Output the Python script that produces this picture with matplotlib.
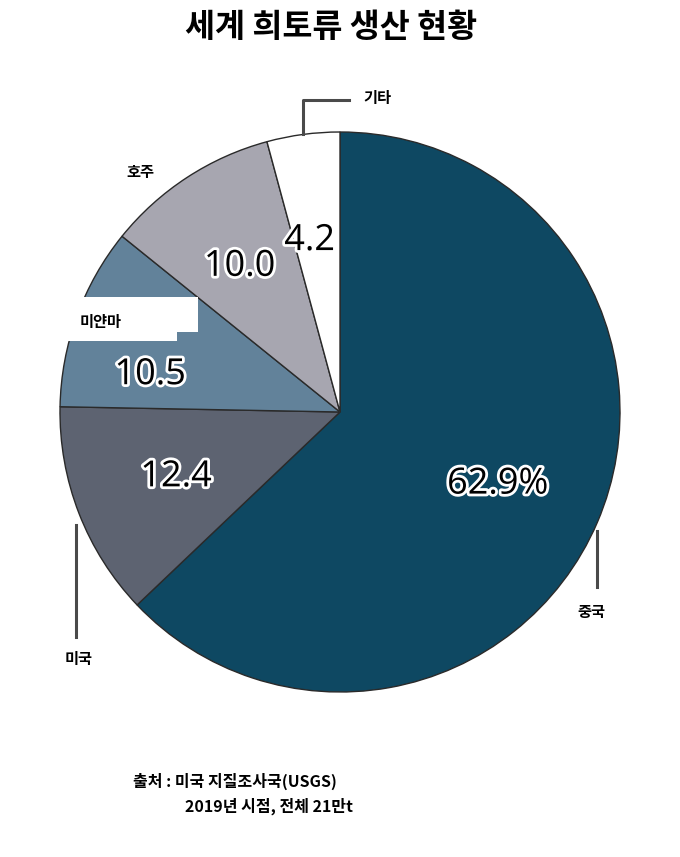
import matplotlib
matplotlib.use('Agg')
import matplotlib.pyplot as plt
import matplotlib.patheffects as pe
from matplotlib.patches import Rectangle
import numpy as np

plt.rcParams['font.family'] = ['Noto Sans CJK KR', 'DejaVu Sans']

# data
countries = ['중국', '미국', '미얀마', '호주', '기타']
shares = [62.9, 12.4, 10.5, 10.0, 4.2]
value_labels = ['62.9%', '12.4', '10.5', '10.0', '4.2']
title = '세계 희토류 생산 현황'
source_lines = ['출처 : 미국 지질조사국(USGS)', '2019년 시점, 전체 21만t']

colors = ['#0e4862', '#5d6371', '#62829a', '#a7a6b0', '#ffffff']
# label placement style (radius fraction, angle shift in degrees)
label_r = [0.62, 0.63, 0.69, 0.63, 0.62]
label_shift = [-1.5, 0.5, 9.0, 1.5, 2.5]

W, H = 680, 857
fig = plt.figure(figsize=(W / 100, H / 100), dpi=100)
fig.patch.set_facecolor('white')

cx, cy, R = 340, 412, 280
ax = fig.add_axes([(cx - R) / W, 1 - (cy + R) / H, 2 * R / W, 2 * R / H])

wedges, _ = ax.pie(shares, colors=colors, startangle=90, counterclock=False,
                   radius=1, wedgeprops=dict(edgecolor='#2a2a2a', linewidth=1.0))
for w in wedges:
    w.set_clip_on(False)
ax.set_xlim(-1, 1)
ax.set_ylim(-1, 1)
ax.set_aspect('equal')
ax.axis('off')

def px(x, y):
    return (x - cx) / R, (cy - y) / R

# numbers inside slices
for w, txt, r, sh in zip(wedges, value_labels, label_r, label_shift):
    ang = np.deg2rad((w.theta1 + w.theta2) / 2 + sh)
    t = ax.text(r * np.cos(ang), r * np.sin(ang), txt, ha='center', va='center',
                fontsize=26, color='black', family=['Open Sans', 'DejaVu Sans'],
                zorder=5)
    t.set_path_effects([pe.Stroke(linewidth=4, foreground='white'), pe.Normal()])

def mid(w):
    a = np.deg2rad((w.theta1 + w.theta2) / 2)
    return np.cos(a), np.sin(a)

lkw = dict(color='#4a4a4a', linewidth=2.2, clip_on=False, zorder=3)
tkw = dict(fontsize=11, fontweight='bold', color='black', zorder=6)

# 중국
x0, y0 = mid(wedges[0])
ax.plot([x0, x0], [y0 - 0.03, y0 - 0.23], **lkw)
ax.text(x0 - 0.02, y0 - 0.32, countries[0], ha='center', va='center', **tkw)

# 미국
x1, y1 = mid(wedges[1])
ax.plot([x1 - 0.01, x1 - 0.01], [y1 - 0.04, y1 - 0.44], **lkw)
ax.text(x1, y1 - 0.52, countries[1], ha='center', va='center', **tkw)

# 미얀마 (white box)
for bx0, by0, bx1, by1 in [(55, 297, 198, 332), (55, 297, 177, 341)]:
    a, b = px(bx0, by1)
    c, d = px(bx1, by0)
    ax.add_patch(Rectangle((a, b), c - a, d - b, facecolor='white', edgecolor='none',
                           zorder=4, clip_on=False))
ax.text(*px(80, 322), countries[2], ha='left', va='center', **tkw)

# 호주
ax.text(*px(140, 172), countries[3], ha='center', va='center', **tkw)

# 기타
x4, y4 = mid(wedges[4])
ax.plot([x4, x4, x4 + 0.165], [y4, 1.114, 1.114], **lkw)
ax.text(x4 + 0.215, 1.12, countries[4], ha='left', va='center', **tkw)

fig.text(0.487, 1 - 28 / H, title, ha='center', va='center', fontsize=23.5,
         fontweight='heavy')
fig.text(133 / W, 1 - 781 / H, source_lines[0], ha='left', va='center',
         fontsize=11.5, fontweight='bold')
fig.text(185 / W, 1 - 806 / H, source_lines[1], ha='left', va='center',
         fontsize=11.5, fontweight='bold')

plt.savefig('out.png', dpi=100)
plt.close()
